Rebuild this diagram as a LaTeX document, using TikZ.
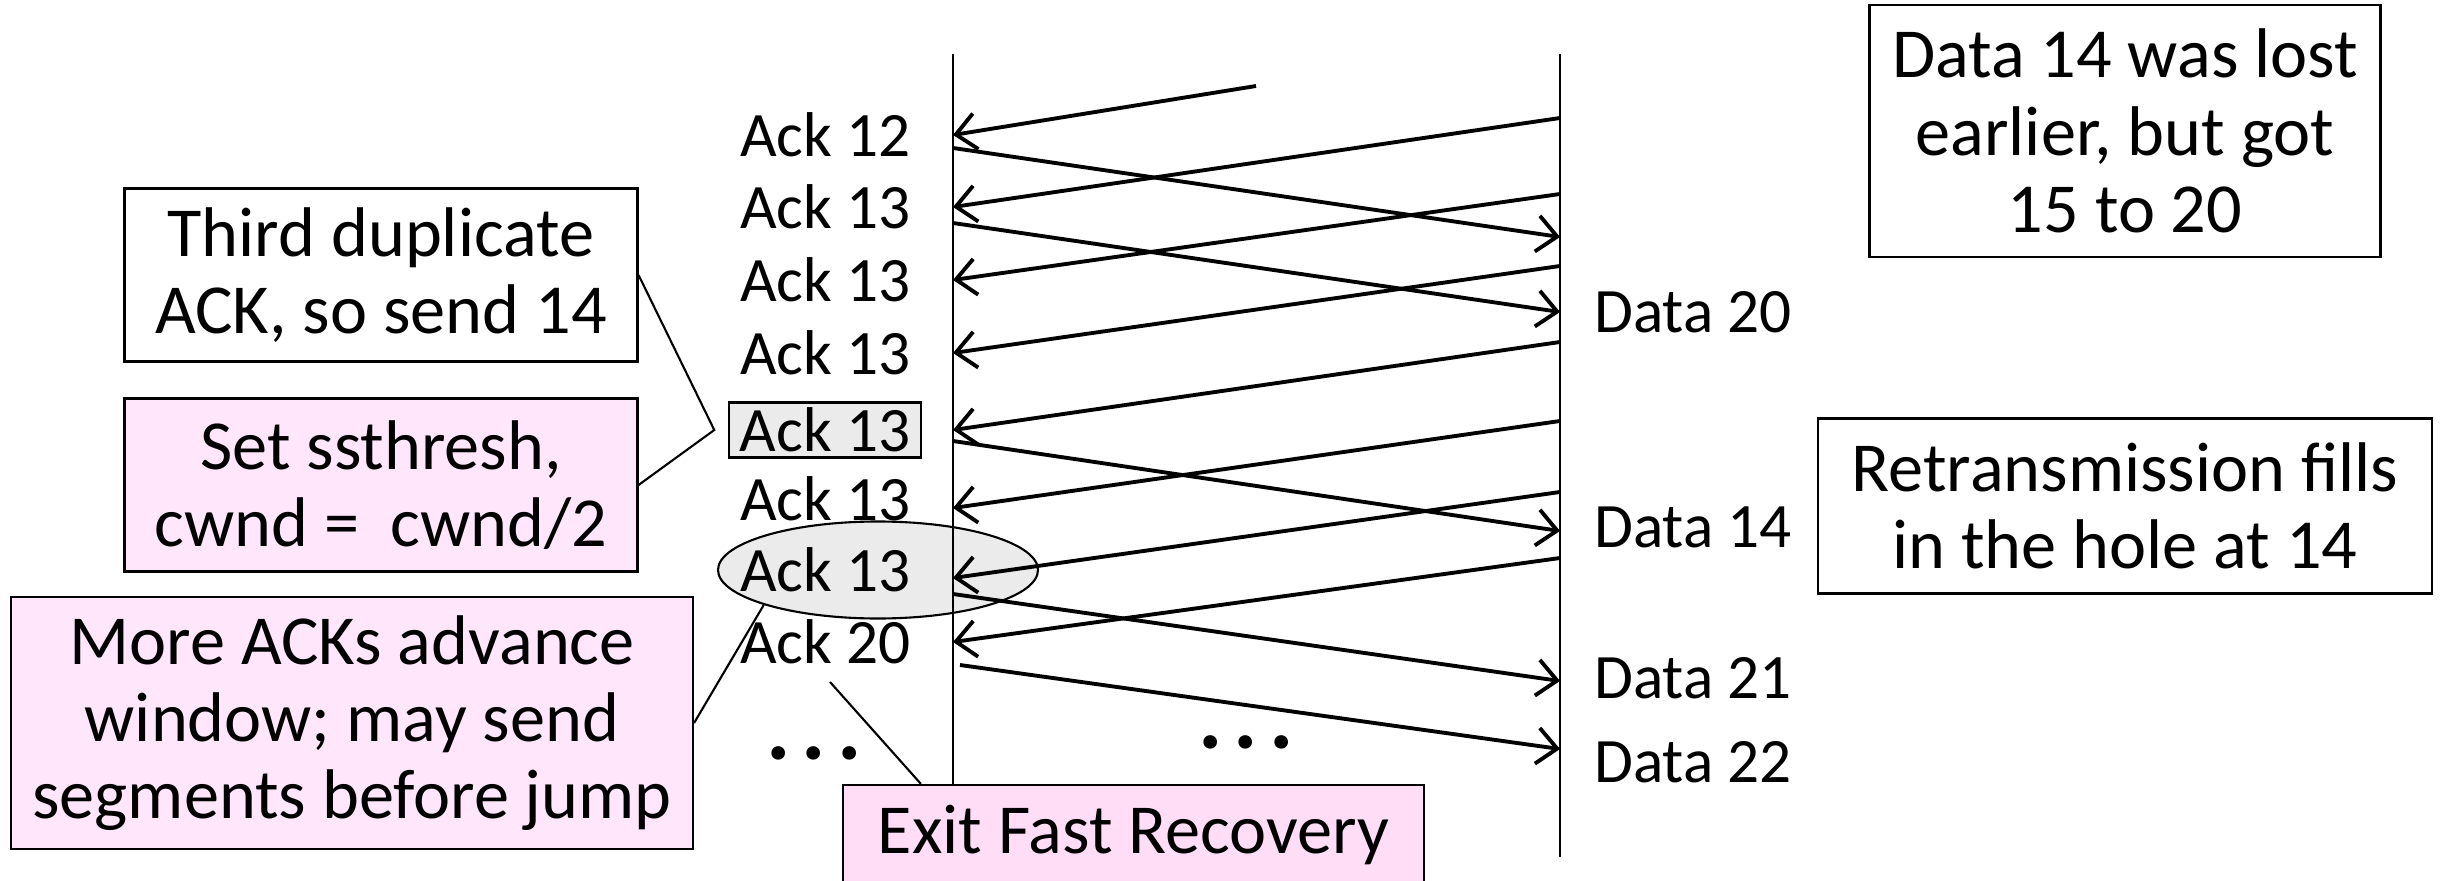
\documentclass[tikz,border=0pt]{standalone}
\usepackage{fontspec}
\setmainfont{Carlito}
\usetikzlibrary{arrows.meta,shapes.geometric}
\definecolor{notepink}{RGB}{255,230,250}
\definecolor{exitpink}{RGB}{255,221,246}
\definecolor{holegray}{RGB}{235,235,235}
\newcommand{\labelfont}{\fontsize{18}{22}\selectfont}
\newcommand{\notefont}{\fontsize{20}{22}\selectfont}
\newcommand{\dotsfont}{\fontsize{26}{28}\selectfont\bfseries}

\begin{document}
\begin{tikzpicture}
	\tikzset{life/.style={line width=0.6pt},
		pkt/.style={line width=1.1pt, -{Straight Barb[length=2mm,width=3.6mm]}},
		ack/.style={anchor=east, font=\labelfont, inner sep=3pt},
		dat/.style={anchor=west, font=\labelfont, inner sep=3pt},
		note/.style={draw, line width=0.6pt, align=center, font=\notefont},
		pin/.style={line width=0.6pt}}
	\useasboundingbox (0,0) rectangle (24.43,8.80);
	
	%Loch
	\node[ellipse, draw, line width=0.6pt, fill=holegray, minimum width=3.2cm, minimum height=0.97cm] (hole) at (8.78,3.10) {};
	
	%Zeitachsen
	\coordinate (src) at (9.53,8.26);
	\coordinate (dst) at (15.60,8.26);
	\draw[life] (src) -- (9.53,0.23);
	\draw[life] (dst) -- (15.60,0.23);
	
	%Acks
	\node[ack] (a1) at (9.22,7.45) {Ack 12};
	\node[ack] (a2) at (9.22,6.73) {Ack 13};
	\node[ack] (a3) at (9.22,6.00) {Ack 13};
	\node[ack] (a4) at (9.22,5.27) {Ack 13};
	\node[ack, draw, line width=0.6pt, fill=holegray, inner ysep=1.5pt] (a5) at (9.22,4.50) {Ack 13};
	\node[ack] (a6) at (9.22,3.81) {Ack 13};
	\node[ack] (a7) at (9.22,3.10) {Ack 13};
	\node[ack] (a8) at (9.22,2.38) {Ack 20};
	\node[font=\dotsfont] (ackdots) at (8.14,1.27) {.\kern0.12em.\kern0.12em.};
	
	%Daten
	\node[dat] (d20) at (15.83,5.68) {Data 20};
	\node[dat] (d14) at (15.83,3.53) {Data 14};
	\node[dat] (d21) at (15.83,2.02) {Data 21};
	\node[dat] (d22) at (15.83,1.18) {Data 22};
	\node[font=\dotsfont] (middots) at (12.46,1.38) {.\kern0.12em.\kern0.12em.};
	\coordinate (early) at (15.60,6.43);
	\coordinate (stray) at (12.56,7.94);
	
	%Rueckweg
	\draw[pkt] (stray) -- (src |- a1);
	\draw[pkt] ([yshift=8.9mm]dst |- a2) -- (src |- a2);
	\draw[pkt] ([yshift=8.6mm]dst |- a3) -- (src |- a3);
	\draw[pkt] ([yshift=8.7mm]dst |- a4) -- (src |- a4);
	\draw[pkt] ([yshift=8.8mm]dst |- a5) -- (src |- a5);
	\draw[pkt] ([yshift=7.8mm]dst |- a6) -- ([yshift=-0.9mm]src |- a6);
	\draw[pkt] ([yshift=7.8mm]dst |- a7) -- ([yshift=-0.8mm]src |- a7);
	\draw[pkt] ([yshift=8.4mm]dst |- a8) -- (src |- a8);
	
	%Hinweg
	\draw[pkt] ([yshift=8.9mm]src |- early) -- (early);
	\draw[pkt] ([yshift=8.9mm]src |- d20) -- (dst |- d20);
	\draw[pkt] ([yshift=8.6mm]src |- d14) -- ([yshift=-0.4mm]dst |- d14);
	\draw[pkt] ([yshift=8.4mm]src |- d21) -- ([yshift=-0.3mm]dst |- d21);
	\draw[pkt] ([xshift=0.7mm,yshift=9.7mm]src |- d22) -- ([yshift=1.3mm]dst |- d22);
	
	%Kommentare
	\node[note, minimum width=5.13cm, minimum height=1.73cm] (third) at (3.81,6.05) {Third duplicate\\ACK, so send 14};
	\node[note, fill=notepink, minimum width=5.13cm, minimum height=1.73cm] (thresh) at (3.81,3.95) {Set ssthresh,\\cwnd = \ cwnd/2};
	\node[note, fill=notepink, minimum width=6.82cm, minimum height=2.52cm] (more) at (3.52,1.57) {More ACKs advance\\window; may send\\segments before jump};
	\node[note, fill=exitpink, minimum width=5.81cm, minimum height=1.0cm] (exit) at (11.335,0.45) {Exit Fast Recovery};
	\node[note, minimum width=5.11cm, minimum height=2.52cm] (lost) at (21.25,7.49) {Data 14 was lost\\earlier, but got\\15 to 20};
	\node[note, minimum width=6.14cm, minimum height=1.75cm] (refill) at (21.25,3.74) {Retransmission fills\\in the hole at 14};
	
	%Zeiger
	\draw[pin] (third.east) -- ([xshift=-1.4mm]a5.west) -- (thresh.east);
	\draw[pin] (more.east) -- (hole.197);
	\coordinate (exitpin) at (8.30,1.98);
	\draw[pin] (exitpin) -- ([xshift=7.9mm]exit.north west);
	
\end{tikzpicture}
\end{document}
